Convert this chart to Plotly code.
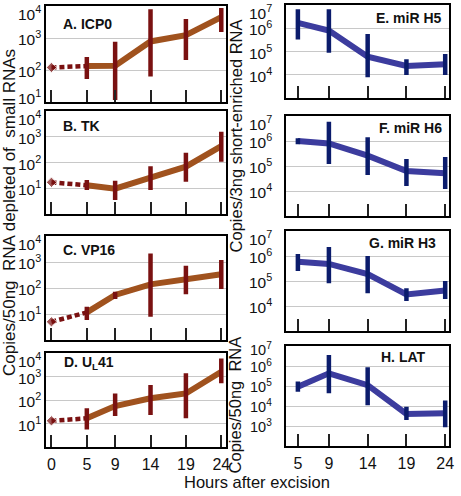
import plotly.graph_objects as go

# ---------------- data ----------------
hours_left = [0, 5, 9, 14, 19, 24]
hours_right = [5, 9, 14, 19, 24]

# left column (Copies/50ng RNA depleted of small RNAs)
icp0_val = [120, 133, 135, 780, 1230, 4500]
icp0_hi = [None, 257, 760, 7940, 3890, 8710]
icp0_lo = [None, 52, 11.5, 63, 204, 1550]

tk_val = [17, 13, 9.6, 26, 69, 435]
tk_hi = [None, 21, 19.5, 72, 240, 1580]
tk_lo = [None, 8.5, 3.5, 8.5, 18, 107]

vp16_val = [5, 11.5, 54, 138, 222, 340]
vp16_hi = [None, 19, 72, 2140, 720, 1200]
vp16_lo = [None, 5.9, 38, 7.9, 58, 91]

ul41_val = [13, 16.6, 55, 118, 190, 1600]
ul41_hi = [None, 45, 190, 440, 1380, 5900]
ul41_lo = [None, 5.6, 21, 23, 16.6, 510]

# right column
h5_val = [1.7e6, 8e5, 6e4, 2.4e4, 2.8e4]
h5_hi = [6.5e6, 6.5e6, 5.6e5, 4.6e4, 7.8e4]
h5_lo = [3.3e5, 8.9e4, 7.8e3, 9.8e3, 9.8e3]

h6_val = [1e6, 8e5, 2.6e5, 6.3e4, 5.1e4]
h6_hi = [1.3e6, 5.9e6, 1.4e6, 1.9e5, 2.3e5]
h6_lo = [7.4e5, 1.2e5, 4.4e4, 1.6e4, 1.2e4]

h3_val = [5.9e5, 4.8e5, 1.9e5, 2.9e4, 4.2e4]
h3_hi = [1.2e6, 2.3e6, 1.0e6, 5.1e4, 1.0e5]
h3_lo = [2.5e5, 8.1e4, 3.2e4, 1.6e4, 1.9e4]

lat_val = [9.2e4, 4.3e5, 1.1e5, 4e3, 4.3e3]
lat_hi = [1.7e5, 3.5e6, 8.7e5, 9.3e3, 1.9e4]
lat_lo = [5.2e4, 4.4e4, 1.1e4, 2.0e3, 870]

panel_titles = ["A. ICP0", "B. TK", "C. VP16", "D. U<sub>L</sub>41",
                "E. miR H5", "F. miR H6", "G. miR H3", "H. LAT"]

# y tick exponents shown per panel and axis ranges (log10)
left_exps = [4, 3, 2, 1]
right_exps = [7, 6, 5, 4]
lat_exps = [7, 6, 5, 4, 3]
y_ranges = [[1, 4], [0, 4], [0, 4], [0, 4], [3, 7], [3, 7], [3, 7], [2, 7]]

x_label = "Hours after excision"
left_ytitle = "Copies/50ng\u00a0 RNA depleted of\u00a0 small RNAs"
right_ytitle_top = "Copies/3ng short-enriched RNA"
right_ytitle_bottom = "Copies/50ng\u00a0 RNA"

# ---------------- layout constants ----------------
W, H = 461, 496
FONT = "Liberation Sans, Arial, sans-serif"
BROWN = "#a0521e"
DARKRED = "#7a1111"
BLUE = "#3c3c9e"
NAVY = "#0b1c6c"
GRID = "#c8c8c8"

left_x_px = (47, 228)
right_x_px = (289, 454)
left_y_px = [(6, 102), (111, 214), (236, 340), (353, 447)]
right_y_px = [(5, 98), (116, 216), (231, 331), (346, 446)]

def xd(p):
    return [p[0] / W, p[1] / W]

def yd(p):
    return [1 - p[1] / H, 1 - p[0] / H]

left_data = [(icp0_val, icp0_hi, icp0_lo), (tk_val, tk_hi, tk_lo),
             (vp16_val, vp16_hi, vp16_lo), (ul41_val, ul41_hi, ul41_lo)]
right_data = [(h5_val, h5_hi, h5_lo), (h6_val, h6_hi, h6_lo),
              (h3_val, h3_hi, h3_lo), (lat_val, lat_hi, lat_lo)]

fig = go.Figure()
layout = {}
annotations = []

def err_arrays(val, hi, lo):
    plus = [h - v for v, h in zip(val, hi)]
    minus = [v - l for v, l in zip(val, lo)]
    return plus, minus

for i in range(8):
    n = i + 1
    xa = "x" if n == 1 else f"x{n}"
    ya = "y" if n == 1 else f"y{n}"
    left = i < 4
    if left:
        val, hi, lo = left_data[i]
        xs = hours_left
        # dotted segment 0 -> 5 h
        fig.add_trace(go.Scatter(
            x=xs[:2], y=val[:2], xaxis=xa, yaxis=ya, mode="lines+markers",
            line=dict(color=DARKRED, width=4.5, dash="5px,3px"),
            marker=dict(symbol=["diamond", "circle"], size=[8, 0.1], color=DARKRED),
            showlegend=False, hoverinfo="skip"))
        xs2, v2, h2, l2 = xs[1:], val[1:], hi[1:], lo[1:]
        lc, ec = BROWN, DARKRED
    else:
        val, hi, lo = right_data[i - 4]
        xs2, v2, h2, l2 = hours_right, val, hi, lo
        lc, ec = BLUE, NAVY
    fig.add_trace(go.Scatter(
        x=xs2, y=v2, xaxis=xa, yaxis=ya, mode="lines",
        line=dict(color=lc, width=6), showlegend=False, hoverinfo="skip"))
    plus, minus = err_arrays(v2, h2, l2)
    fig.add_trace(go.Scatter(
        x=xs2, y=v2, xaxis=xa, yaxis=ya, mode="markers",
        marker=dict(size=1, color=ec),
        error_y=dict(type="data", symmetric=False, array=plus, arrayminus=minus,
                     color=ec, thickness=4.5, width=0),
        showlegend=False, hoverinfo="skip"))

    rng = y_ranges[i]
    exps = left_exps if left else (lat_exps if i == 7 else right_exps)
    bottom = i in (3, 7)
    layout["xaxis" if n == 1 else f"xaxis{n}"] = dict(
        domain=xd(left_x_px if left else right_x_px),
        anchor=ya, range=[-0.7, 24.6] if left else [3.45, 24.5],
        tickmode="array", tickvals=hours_left if left else hours_right,
        ticks="inside", ticklen=12, tickwidth=1.5, tickcolor="#222",
        showticklabels=bottom, tickfont=dict(size=16, color="#111", family=FONT),
        ticklabelstandoff=2,
        showgrid=False, zeroline=False, showline=True, linecolor="black",
        linewidth=2, mirror=True)
    layout["yaxis" if n == 1 else f"yaxis{n}"] = dict(
        domain=yd(left_y_px[i] if left else right_y_px[i - 4]),
        anchor=xa, type="log", range=rng,
        tickmode="array", tickvals=[10 ** e for e in range(rng[0], rng[1] + 1)],
        showticklabels=False, ticks="", showgrid=True, gridcolor=GRID,
        gridwidth=1, zeroline=False, showline=True, linecolor="black",
        linewidth=2, mirror=True)

    # y tick labels
    lab_x = (43 if left else 277) / W
    dense = len(exps) > 4
    for e in exps:
        shift = 0
        if e == rng[1]:
            shift = -3 if dense else -7
        elif e == rng[0]:
            shift = 5
        annotations.append(dict(
            x=lab_x, xref="paper", y=e, yref=ya, yshift=shift,
            text=f"10<sup>{e}</sup>", showarrow=False, xanchor="right",
            yanchor="middle",
            font=dict(size=14.5 if dense else 15.5, color="#111", family=FONT)))

# panel titles
title_pos = [(62, 24, "left"), (62, 126, "left"), (62, 250, "left"), (63, 363, "left"),
             (449, 18, "right"), (449, 128, "right"), (443, 243, "right"), (433, 357, "right")]
for t, (px, py, anc) in zip(panel_titles, title_pos):
    annotations.append(dict(
        x=px / W, y=1 - py / H, xref="paper", yref="paper", text=f"<b>{t}</b>",
        showarrow=False, xanchor=anc, yanchor="middle",
        font=dict(size=14, color="#111", family=FONT)))

# axis titles
annotations.append(dict(x=260 / W, y=1 - 482 / H, xref="paper", yref="paper",
                        text=x_label, showarrow=False, xanchor="center", yanchor="middle",
                        font=dict(size=16.5, color="#111", family=FONT)))
annotations.append(dict(x=9 / W, y=1 - 212 / H, xref="paper", yref="paper",
                        text=left_ytitle, textangle=-90, showarrow=False,
                        xanchor="center", yanchor="middle",
                        font=dict(size=17, color="#111", family=FONT)))
annotations.append(dict(x=239 / W, y=1 - 136 / H, xref="paper", yref="paper",
                        text=right_ytitle_top, textangle=-90, showarrow=False,
                        xanchor="center", yanchor="middle",
                        font=dict(size=16.5, color="#111", family=FONT)))
annotations.append(dict(x=238 / W, y=1 - 405 / H, xref="paper", yref="paper",
                        text=right_ytitle_bottom, textangle=-90, showarrow=False,
                        xanchor="center", yanchor="middle",
                        font=dict(size=16.5, color="#111", family=FONT)))

fig.update_layout(**layout)
fig.update_layout(width=W, height=H, margin=dict(l=0, r=0, t=0, b=0),
                  paper_bgcolor="white", plot_bgcolor="white",
                  annotations=annotations, showlegend=False,
                  font=dict(family=FONT))
fig.write_html("out.html", config={"displayModeBar": False},
               post_script="document.body.style.margin='0';document.body.style.overflow='hidden';")
